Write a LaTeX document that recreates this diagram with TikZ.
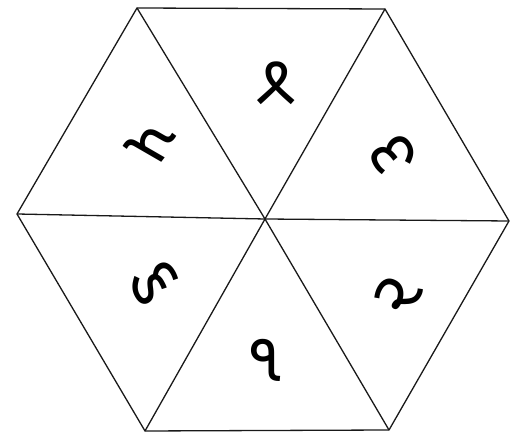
\documentclass[tikz,border=0pt]{standalone}
\usepackage{fontspec}
\newfontfamily\guj[Script=Gujarati]{Noto Sans Gujarati UI}
\begin{document}
\begin{tikzpicture}[x=1pt,y=1pt,
  edge/.style={draw=black!90,line width=1.3pt,line join=round},
  digit/.style={font=\guj\fontsize{70}{70}\selectfont,inner sep=0pt}]
\useasboundingbox (0,0) rectangle (531,436);
\fill[white] (0,0) rectangle (531,436);
\coordinate (TL) at (137,428);
\coordinate (TR) at (385,427);
\coordinate (R) at (509,215);
\coordinate (BR) at (389,6);
\coordinate (BL) at (145,5);
\coordinate (L) at (17,222);
\coordinate (C) at (265,217);
\draw[edge] (TL) -- (TR) -- (R) -- (BR) -- (BL) -- (L) -- cycle;
\draw[edge] (TL) -- (C) -- (BR);
\draw[edge] (TR) -- (C) -- (BL);
\draw[edge] (L) -- (C) -- (R);
\node[digit,rotate=0] (d1) at (265,76) {૧};
\node[digit,rotate=60] (d2) at (398,141) {૨};
\node[digit,rotate=120] (d3) at (393,281) {૩};
\node[digit,rotate=180] (d4) at (276,353) {૪};
\node[digit,rotate=240] (d5) at (150,294) {૫};
\node[digit,rotate=300] (d6) at (154,154) {૬};
\end{tikzpicture}
\end{document}
